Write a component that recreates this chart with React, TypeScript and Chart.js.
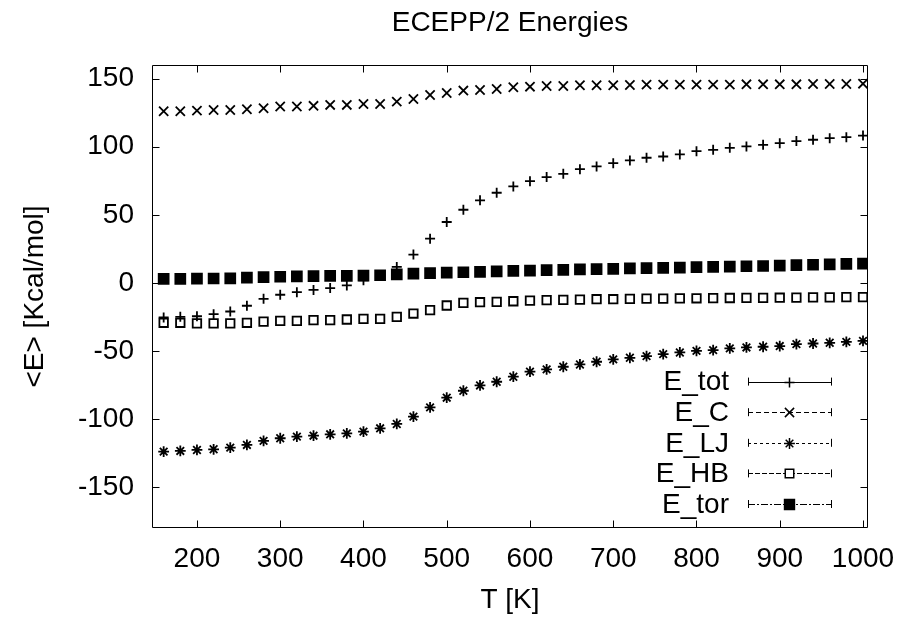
import React, { useEffect, useRef } from 'react';
import { Chart, registerables } from 'chart.js';
import { drawPoint } from 'chart.js/helpers';

Chart.register(...registerables);

// ---- data ----
const temperatures = [
  160, 180, 200, 220, 240, 260, 280, 300, 320, 340, 360, 380, 400, 420, 440,
  460, 480, 500, 520, 540, 560, 580, 600, 620, 640, 660, 680, 700, 720, 740,
  760, 780, 800, 820, 840, 860, 880, 900, 920, 940, 960, 980, 1000,
];

const eTot = [
  -25.4, -24.9, -24.5, -23.0, -21.0, -16.8, -11.7, -8.7, -6.8, -5.2, -3.8, -1.9, 1.9, 5.0, 11.7,
  20.8, 32.5, 44.7, 53.7, 60.6, 66.2, 70.8, 74.7, 77.7, 80.1, 83.5, 85.5, 87.9, 89.9, 91.9,
  92.8, 94.3, 96.7, 97.7, 99.2, 100.2, 101.4, 102.6, 104.1, 105.1, 106.3, 107.0, 108.2,
];

const eC = [
  126.0, 126.0, 126.5, 127.0, 127.0, 127.5, 128.2, 129.5, 129.5, 130.0, 130.7, 130.7, 131.4, 131.4, 133.1,
  135.0, 138.0, 139.5, 141.2, 141.7, 142.4, 143.6, 144.1, 144.6, 144.6, 145.1, 145.1, 145.1, 145.3, 145.6,
  145.6, 145.6, 145.6, 145.6, 145.6, 145.8, 145.8, 145.8, 145.8, 146.0, 146.0, 146.0, 146.3,
];

const eLJ = [
  -123.9, -123.4, -122.7, -122.2, -121.0, -119.0, -116.0, -114.1, -112.9, -112.2, -111.2, -110.5, -109.2, -106.8, -103.6,
  -98.2, -91.4, -84.3, -79.2, -75.3, -72.6, -68.9, -65.2, -63.5, -61.6, -59.9, -57.9, -56.2, -55.0, -53.8,
  -52.3, -51.1, -49.9, -49.4, -48.1, -47.4, -46.9, -46.4, -45.0, -44.5, -44.0, -43.3, -42.6,
];

const eHB = [
  -29.3, -29.3, -29.8, -29.8, -29.8, -29.3, -28.4, -27.9, -27.9, -27.4, -27.4, -26.9, -26.4, -26.4, -24.9,
  -22.5, -20.0, -16.6, -14.7, -14.2, -14.0, -13.5, -13.0, -12.7, -12.5, -12.3, -12.0, -12.0, -11.8, -11.6,
  -11.5, -11.4, -11.3, -11.2, -11.1, -11.0, -11.0, -10.9, -10.8, -10.7, -10.6, -10.5, -10.4,
];

const eTor = [
  3.0, 3.0, 3.1, 3.2, 3.3, 3.8, 4.2, 4.5, 4.8, 5.0, 5.1, 5.2, 5.4, 5.6, 6.2,
  6.8, 7.2, 7.5, 7.8, 8.1, 8.4, 8.8, 9.0, 9.3, 9.6, 9.9, 10.1, 10.3, 10.6, 10.8,
  11.0, 11.2, 11.5, 11.7, 12.0, 12.2, 12.4, 12.7, 13.0, 13.3, 13.6, 13.9, 14.2,
];

const seriesLabels = ['E_tot', 'E_C', 'E_LJ', 'E_HB', 'E_tor'];
const xTickValues = [200, 300, 400, 500, 600, 700, 800, 900, 1000];
const yTickValues = [-150, -100, -50, 0, 50, 100, 150];
const chartTitle = 'ECEPP/2 Energies';
const xTitle = 'T [K]';
const yTitle = '<E> [Kcal/mol]';

// ---- styles ----
const FONT = '"Liberation Sans", Arial, Helvetica, sans-serif';
const FONT_SIZE = 28;

const markerStyles = [
  { pointStyle: 'cross', radius: 5, fill: 'rgba(0,0,0,0)', dash: [] as number[] },
  { pointStyle: 'crossRot', radius: 6.5, fill: 'rgba(0,0,0,0)', dash: [5, 3] },
  { pointStyle: 'star', radius: 5.4, fill: 'rgba(0,0,0,0)', dash: [3, 3] },
  { pointStyle: 'rect', radius: 6, fill: 'rgba(0,0,0,0)', dash: [5, 2] },
  { pointStyle: 'rect', radius: 7, fill: '#000', dash: [7, 2, 2, 2] },
];

const seriesValues = [eTot, eC, eLJ, eHB, eTor];

const zeroPadding = (scale: any) => {
  scale.paddingLeft = 0;
  scale.paddingRight = 0;
  scale.paddingTop = 0;
  scale.paddingBottom = 0;
};

const gnuFrame = {
  id: 'gnuFrame',
  afterDraw(chart: any) {
    const { ctx, chartArea, scales } = chart;
    const { left, right, top, bottom } = chartArea;
    const xs = scales.x;
    const ys = scales.y;
    const tick = 7;
    ctx.save();
    ctx.strokeStyle = '#000';
    ctx.lineWidth = 1;
    const l = Math.round(left) + 0.5;
    const r = Math.round(right) - 0.5;
    const t = Math.round(top) + 0.5;
    const b = Math.round(bottom) - 0.5;
    ctx.beginPath();
    ctx.rect(l, t, r - l, b - t);
    for (const v of xTickValues) {
      const px = Math.round(xs.getPixelForValue(v)) + 0.5;
      ctx.moveTo(px, b);
      ctx.lineTo(px, b - tick);
      ctx.moveTo(px, t);
      ctx.lineTo(px, t + tick);
    }
    for (const v of yTickValues) {
      const py = Math.round(ys.getPixelForValue(v)) + 0.5;
      ctx.moveTo(l, py);
      ctx.lineTo(l + tick, py);
      ctx.moveTo(r, py);
      ctx.lineTo(r - tick, py);
    }
    ctx.stroke();

    // title centred over the plot area
    ctx.fillStyle = '#000';
    ctx.font = `${FONT_SIZE}px ${FONT}`;
    ctx.textAlign = 'center';
    ctx.textBaseline = 'middle';
    ctx.fillText(chartTitle, (left + right) / 2, 23);

    // legend (gnuplot style, bottom right inside)
    const n = seriesLabels.length;
    const rowGap = 30.6;
    const x1 = right - 37;
    const x0 = x1 - 83;
    const mid = (x0 + x1) / 2;
    seriesLabels.forEach((label, i) => {
      const yRow = bottom - 24 - (n - 1 - i) * rowGap;
      const st = markerStyles[i];
      ctx.fillStyle = '#000';
      ctx.textAlign = 'right';
      ctx.textBaseline = 'middle';
      ctx.fillText(label, x0 - 19, yRow + 1);
      ctx.lineWidth = 1;
      ctx.setLineDash(st.dash);
      ctx.beginPath();
      ctx.moveTo(x0, Math.round(yRow) + 0.5);
      ctx.lineTo(x1, Math.round(yRow) + 0.5);
      ctx.stroke();
      ctx.setLineDash([]);
      ctx.beginPath();
      ctx.moveTo(Math.round(x0) + 0.5, yRow - 4);
      ctx.lineTo(Math.round(x0) + 0.5, yRow + 4);
      ctx.moveTo(Math.round(x1) + 0.5, yRow - 4);
      ctx.lineTo(Math.round(x1) + 0.5, yRow + 4);
      ctx.stroke();
      ctx.fillStyle = st.pointStyle === 'rect' && st.fill !== '#000' ? '#fff' : st.fill;
      ctx.strokeStyle = '#000';
      ctx.lineWidth = 1.5;
      drawPoint(ctx, { pointStyle: st.pointStyle as any, radius: st.radius, rotation: 0, borderWidth: 1.5 }, mid, Math.round(yRow) + 0.5);
    });
    ctx.restore();
  },
};

export default function App() {
  const canvasRef = useRef<HTMLCanvasElement | null>(null);

  useEffect(() => {
    if (!canvasRef.current) return;
    const datasets = seriesLabels.map((label, i) => ({
      label,
      data: temperatures.map((t, k) => ({ x: t, y: seriesValues[i][k] })),
      showLine: false,
      pointStyle: markerStyles[i].pointStyle as any,
      pointRadius: markerStyles[i].radius,
      pointBorderWidth: 1.8,
      pointBorderColor: '#000',
      pointBackgroundColor: markerStyles[i].fill,
      borderColor: '#000',
      backgroundColor: markerStyles[i].fill,
    }));

    const chart = new Chart(canvasRef.current, {
      type: 'scatter',
      data: { datasets },
      plugins: [gnuFrame],
      options: {
        animation: false,
        responsive: true,
        maintainAspectRatio: false,
        layout: { padding: { top: 65, right: 33, left: 0, bottom: 0 } },
        plugins: {
          legend: { display: false },
          title: { display: false },
          tooltip: { enabled: false },
        },
        scales: {
          x: {
            type: 'linear',
            min: 146,
            max: 1006,
            grid: { display: false, drawTicks: false },
            border: { display: false },
            afterBuildTicks: (scale: any) => {
              scale.ticks = xTickValues.map((v) => ({ value: v }));
            },
            afterFit: (scale: any) => {
              scale.height = 98;
              zeroPadding(scale);
            },
            ticks: {
              autoSkip: false,
              maxRotation: 0,
              padding: 14,
              color: '#000',
              font: { family: FONT, size: FONT_SIZE },
              callback: (v: any) => String(v),
            },
            title: {
              display: true,
              text: xTitle,
              color: '#000',
              font: { family: FONT, size: FONT_SIZE },
              padding: { top: 0, bottom: 9 },
            },
          },
          y: {
            type: 'linear',
            min: -180,
            max: 160,
            grid: { display: false, drawTicks: false },
            border: { display: false },
            afterBuildTicks: (scale: any) => {
              scale.ticks = yTickValues.map((v) => ({ value: v }));
            },
            afterFit: (scale: any) => {
              scale.width = 152;
              zeroPadding(scale);
            },
            ticks: {
              autoSkip: false,
              padding: 18,
              color: '#000',
              font: { family: FONT, size: FONT_SIZE },
              callback: (v: any) => String(v),
            },
            title: {
              display: true,
              text: yTitle,
              color: '#000',
              font: { family: FONT, size: FONT_SIZE },
              padding: { top: 18, bottom: 0 },
            },
          },
        },
      },
    });
    return () => chart.destroy();
  }, []);

  return (
    <div style={{ position: 'fixed', left: 0, top: 0, width: 901, height: 626, background: '#fff' }}>
      <canvas ref={canvasRef} />
    </div>
  );
}
